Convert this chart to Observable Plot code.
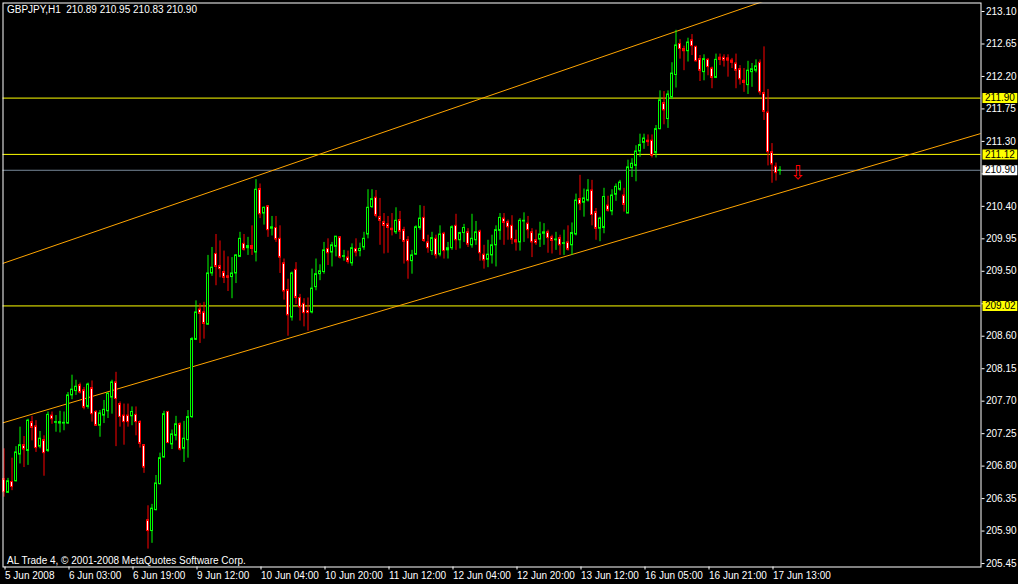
<!DOCTYPE html>
<html><head><meta charset="utf-8">
<script src="https://cdn.jsdelivr.net/npm/d3@7"></script>
<script src="https://cdn.jsdelivr.net/npm/@observablehq/plot@0.6"></script>
<style>
html,body{margin:0;padding:0;background:#000;overflow:hidden;}
#chart svg{display:block;}
</style></head><body><div id="chart"></div>
<script>
const headerText = "GBPJPY,H1\u00a0\u00a0210.89 210.95 210.83 210.90";
const footerText = "AL Trade 4, \u00a9 2001-2008 MetaQuotes Software Corp.";

const open = [
206.62,206.43,206.58,206.59,206.96,207.09,207.01,207.41,207.35,207.07,
207.16,207.01,207.50,207.40,207.39,207.39,207.39,207.78,207.84,207.92,
207.85,207.62,207.88,207.55,207.36,207.50,207.56,207.75,207.96,207.66,
207.50,207.50,207.49,207.51,207.41,207.09,206.05,205.90,206.19,206.55,
206.92,207.55,207.10,207.22,207.38,207.04,207.16,207.48,208.55,208.97,
208.93,208.76,209.47,209.74,209.57,209.49,209.43,209.42,209.47,209.70,
209.88,209.82,209.85,209.76,210.64,210.30,210.40,210.09,210.10,209.95,
209.61,209.24,208.86,209.52,209.13,209.05,208.95,208.93,209.28,209.46,
209.49,209.81,209.76,209.84,209.97,209.70,209.69,209.61,209.81,209.78,
209.83,210.01,210.39,210.52,210.25,210.18,210.15,210.09,210.04,210.21,
210.07,209.93,209.64,209.73,210.10,210.24,209.90,209.78,209.95,209.73,
210.02,209.79,209.82,210.13,209.93,210.03,210.04,209.86,209.93,210.05,
209.73,209.66,209.72,209.86,210.06,210.23,210.18,210.13,209.93,209.90,
210.19,210.16,210.04,209.93,209.94,210.02,210.04,209.97,209.93,209.96,
209.88,209.90,209.86,210.01,210.50,210.45,210.48,210.62,210.32,210.09,
210.10,210.41,210.33,210.56,210.63,210.55,210.30,210.93,210.96,211.16,
211.28,211.31,211.31,211.14,211.47,211.83,211.61,211.91,212.22,212.65,
212.58,212.55,212.70,212.61,212.44,212.26,212.43,212.31,212.18,212.46,
212.46,212.45,212.42,212.38,212.30,212.14,212.08,212.26,212.28,212.39,
211.97,211.70,211.15,210.95,210.89];

const high = [
207.04,206.63,206.91,207.07,207.34,207.21,207.45,207.49,207.43,207.28,
207.22,207.55,207.55,207.50,207.56,207.55,207.82,208.06,207.99,207.95,
207.89,207.95,207.98,207.57,207.57,207.71,207.82,207.99,208.10,207.69,
207.66,207.66,207.62,207.62,207.43,207.10,206.25,206.27,206.67,206.98,
207.56,207.56,207.30,207.49,207.40,207.42,207.57,208.58,209.09,209.05,
209.07,209.72,209.83,210.01,209.92,209.78,209.70,209.69,209.73,210.04,
210.01,209.97,210.13,210.77,210.71,210.39,210.41,210.26,210.26,210.13,
209.67,209.39,209.49,209.62,209.18,209.12,209.13,209.53,209.67,209.59,
209.90,209.95,209.90,209.98,209.98,209.79,209.78,209.88,209.95,209.89,
210.04,210.63,210.63,210.62,210.51,210.30,210.26,210.30,210.38,210.33,
210.11,209.98,209.79,210.13,210.41,210.40,210.00,210.04,210.00,210.13,
210.04,209.90,210.13,210.29,210.04,210.15,210.09,210.29,210.19,210.07,
209.86,209.93,210.00,210.13,210.30,210.30,210.21,210.27,210.07,210.23,
210.31,210.26,210.09,210.07,210.18,210.16,210.07,210.00,210.04,210.00,
210.07,210.13,210.17,210.57,210.83,210.64,210.77,210.76,210.37,210.25,
210.65,210.54,210.63,210.71,210.76,210.65,211.04,211.06,211.24,211.40,
211.40,211.39,211.39,211.52,212.00,211.99,212.00,212.39,212.84,212.71,
212.62,212.73,212.78,212.62,212.49,212.50,212.45,212.33,212.51,212.51,
212.50,212.50,212.45,212.51,212.35,212.31,212.41,212.38,212.43,212.43,
212.61,212.02,211.27,211.00,210.95];

const low = [
206.37,206.42,206.46,206.58,206.83,206.78,206.81,207.15,206.99,207.04,
206.66,206.99,207.38,207.27,207.26,207.29,207.38,207.72,207.78,207.80,
207.58,207.59,207.41,207.35,207.20,207.39,207.46,207.52,207.07,207.34,
207.09,207.34,207.36,207.22,207.05,206.70,205.65,205.73,206.18,206.54,
206.91,207.11,207.03,207.15,207.01,206.85,206.91,207.46,208.54,208.50,
208.56,208.75,209.43,209.30,209.41,209.33,209.22,209.12,209.33,209.69,
209.78,209.72,209.72,209.63,210.23,210.14,209.97,209.99,209.90,209.47,
209.10,208.60,208.81,209.04,208.81,208.73,208.67,208.91,209.23,209.37,
209.46,209.58,209.56,209.70,209.67,209.64,209.60,209.57,209.70,209.70,
209.79,209.95,210.37,210.24,209.86,209.74,209.75,209.99,210.01,209.94,
209.60,209.39,209.46,209.72,210.07,209.90,209.75,209.72,209.67,209.70,
209.67,209.67,209.79,209.79,209.81,209.90,209.83,209.82,209.86,209.64,
209.53,209.55,209.60,209.56,209.93,209.86,209.93,209.87,209.78,209.78,
209.90,209.95,209.69,209.86,209.83,209.86,209.75,209.74,209.79,209.72,
209.72,209.78,209.72,209.99,210.34,210.25,210.46,210.13,209.93,209.91,
210.02,210.32,210.27,210.47,210.61,210.32,210.30,210.80,210.74,211.08,
211.19,211.23,211.07,211.07,211.46,211.53,211.48,211.88,212.04,212.44,
212.28,212.40,212.49,212.40,212.13,212.14,212.21,212.03,212.17,212.35,
212.33,212.19,212.31,212.03,212.08,211.98,211.95,212.05,212.25,211.94,
211.59,210.96,210.72,210.75,210.83];

const close = [
206.44,206.59,206.51,206.99,207.09,207.03,207.43,207.33,207.05,207.18,
206.98,207.51,207.45,207.41,207.41,207.40,207.78,207.86,207.90,207.82,
207.61,207.93,207.52,207.36,207.53,207.58,207.80,207.96,207.73,207.48,
207.41,207.41,207.55,207.41,207.11,206.78,205.90,206.21,206.56,206.91,
207.52,207.12,207.24,207.38,207.03,207.18,207.48,208.56,208.93,208.91,
208.77,209.47,209.55,209.56,209.53,209.41,209.41,209.47,209.72,209.95,
209.80,209.85,209.81,210.63,210.29,210.38,210.07,210.11,209.94,209.69,
209.22,208.89,209.47,209.13,209.00,208.92,208.92,209.26,209.46,209.50,
209.79,209.75,209.86,209.98,209.69,209.71,209.63,209.82,209.76,209.81,
209.95,210.38,210.50,210.27,210.20,210.13,210.10,210.07,210.20,210.05,
209.91,209.64,209.72,210.11,210.23,209.92,209.82,209.96,209.72,210.01,
209.78,209.82,210.11,209.93,210.03,210.10,209.87,209.95,210.04,209.75,
209.65,209.73,209.86,210.07,210.24,210.17,210.11,209.94,209.90,210.20,
210.20,210.07,209.90,209.89,210.01,210.04,209.96,209.92,209.94,209.86,
209.89,209.80,210.03,210.48,210.43,210.51,210.62,210.28,210.09,210.23,
210.53,210.34,210.55,210.67,210.73,210.42,210.94,210.99,211.16,211.25,
211.34,211.29,211.10,211.47,211.87,211.73,211.95,212.24,212.63,212.58,
212.55,212.67,212.62,212.41,212.28,212.44,212.33,212.18,212.43,212.43,
212.42,212.42,212.39,212.28,212.16,212.11,212.28,212.30,212.34,211.98,
211.71,211.15,210.98,210.86,210.90];

const timeTickBars = [0,16,32,48,64,80,96,112,128,144,160,176,192];
const timeTickLabels = ["5 Jun 2008","6 Jun 03:00","6 Jun 19:00","9 Jun 12:00","10 Jun 04:00","10 Jun 20:00","11 Jun 12:00","12 Jun 04:00","12 Jun 20:00","13 Jun 12:00","16 Jun 05:00","16 Jun 21:00","17 Jun 13:00"];
const priceTicks = [213.10,212.65,212.20,211.75,211.30,210.85,210.40,209.95,209.50,209.05,208.60,208.15,207.70,207.25,206.80,206.35,205.90,205.45];
const hiddenTickLabels = [210.85, 209.05];

const levelLines = [211.90, 211.12, 209.02];
const bidPrice = 210.90;
const upperChannel = [{i:-0.25, p:209.61},{i:244.25, p:214.28}];
const lowerChannel = [{i:-0.25, p:207.40},{i:244.25, p:211.41}];
const arrowMark = [{i:198.4, p:210.87}];

const bars = open.map((o,i)=>({i, o, h:high[i], l:low[i], c:close[i], up: close[i] >= o}));
const xMax = 244.25;
const tickPos = timeTickBars.map(b => b - 0.25);
const labelOf = new Map(tickPos.map((p,k)=>[p, timeTickLabels[k]]));
const bull = "#00ff00", bear = "#ff0000";

const chart = Plot.plot({
  width: 1018, height: 584,
  marginLeft: 2.5, marginRight: 37.5, marginTop: 2.5, marginBottom: 17.5,
  style: {background:"#000", color:"#fff", fontFamily:"'Liberation Sans', Arial, sans-serif", fontSize:"10px"},
  x: {type:"linear", domain:[-0.25, xMax], axis:null, label:null},
  y: {type:"linear", domain:[205.402, 213.218], axis:null, label:null},
  color: {type:"identity"},
  marks: [
    Plot.axisY({anchor:"right", label:null, ticks: priceTicks,
      tickFormat: d => hiddenTickLabels.some(h => Math.abs(h - d) < 1e-6) ? "" : d.toFixed(2),
      tickSize:3, tickPadding:2, color:"#fff"}),
    Plot.axisX({anchor:"bottom", label:null, ticks: tickPos, tickFormat: d => labelOf.get(d), textAnchor:"start", tickSize:3, tickPadding:2, dx:2, color:"#fff"}),
    Plot.ruleY(levelLines, {stroke:"#ffff00", strokeWidth:1}),
    Plot.ruleY([bidPrice], {stroke:"#778899", strokeWidth:1}),
    Plot.line(upperChannel, {x:"i", y:"p", stroke:"#ffa500", strokeWidth:1, clip:true}),
    Plot.line(lowerChannel, {x:"i", y:"p", stroke:"#ffa500", strokeWidth:1, clip:true}),
    Plot.ruleX(bars, {x:"i", y1:"l", y2:"h", stroke: d => d.up ? bull : bear, strokeWidth:1}),
    Plot.rect(bars, {x1: d => d.i - 0.25, x2: d => d.i + 0.25, y1:"o", y2:"c",
      fill: d => d.up ? "#000" : "#fff", stroke: d => d.up ? bull : bear, strokeWidth:1}),
    Plot.text(arrowMark, {x:"i", y:"p", text: () => "\u21e9", fill:"#ff0000", fontSize:19, fontFamily:"DejaVu Sans"}),
    Plot.ruleY(levelLines, {x1: xMax + 0.5, x2: xMax + 9.2, stroke:"#ffff00", strokeWidth:10}),
    Plot.ruleY([bidPrice], {x1: xMax + 0.5, x2: xMax + 9.2, stroke:"#ffffff", strokeWidth:10}),
    Plot.text([...levelLines, bidPrice], {x: xMax + 1.0, y: d => d, text: d => d.toFixed(2), textAnchor:"start", fill:"#000"}),
    Plot.text([headerText], {frameAnchor:"top-left", dx:4, dy:3, textAnchor:"start", fill:"#fff"}),
    Plot.text([footerText], {frameAnchor:"bottom-left", dx:4, dy:-3, textAnchor:"start", fill:"#fff"}),
    Plot.frame({stroke:"#fff"})
  ]
});
document.getElementById("chart").appendChild(chart);
</script>
</body></html>
